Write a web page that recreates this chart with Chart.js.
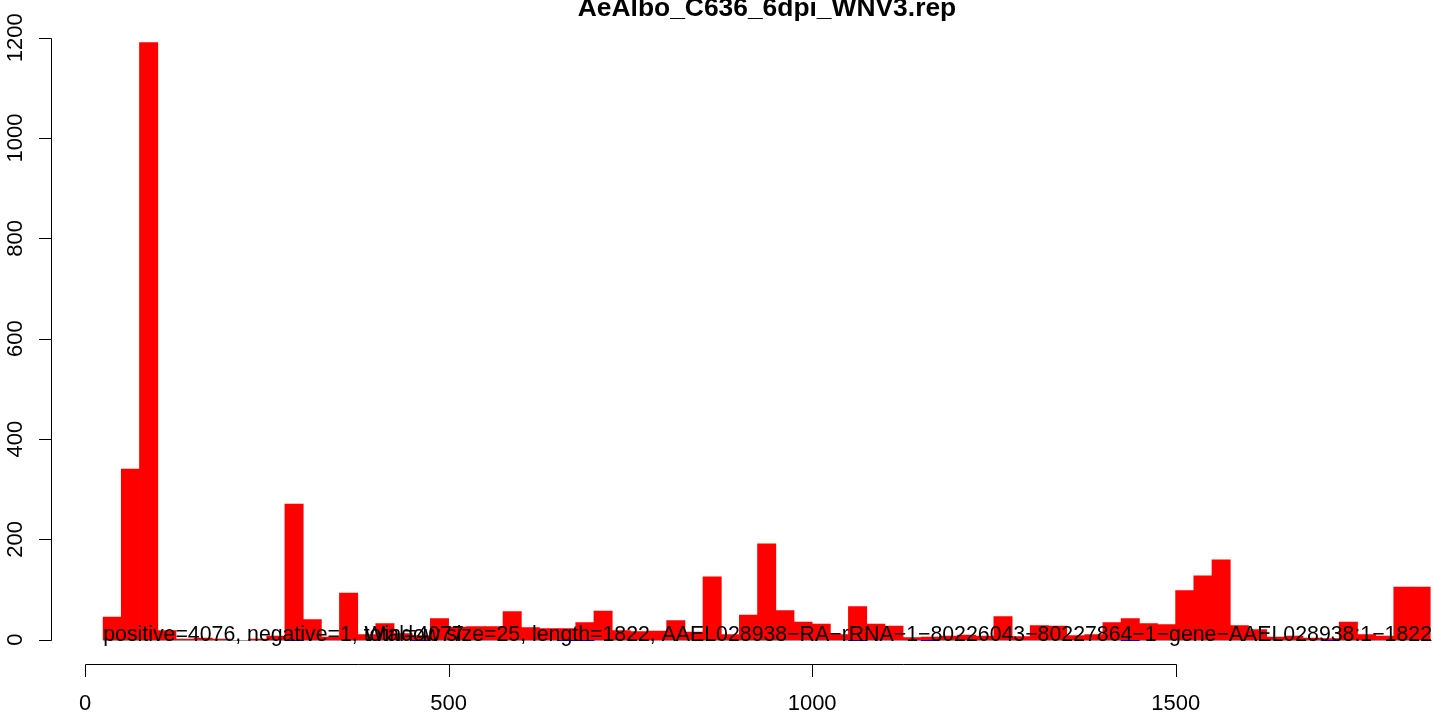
<!DOCTYPE html>
<html>
<head>
<meta charset="utf-8">
<title>AeAlbo_C636_6dpi_WNV3.rep</title>
<script src="https://cdn.jsdelivr.net/npm/chart.js@4.4.0/dist/chart.umd.min.js"></script>
<style>
  html, body { margin: 0; padding: 0; background: #fff; }
  #wrap { width: 1447px; height: 715px; }
</style>
</head>
<body>
<div id="wrap"><canvas id="covChart" width="1447" height="715"></canvas></div>
<script>
var chartTitle = 'AeAlbo_C636_6dpi_WNV3.rep';
var countText = 'positive=4076, negative=1, total=4077';
var infoText = 'Window size=25, length=1822, AAEL028938\u2212RA\u2212rRNA\u22121\u221280226043\u221280227864\u22121\u2212gene\u2212AAEL028938:1\u22121822';

var windowSize = 25;
// reads per 25 nt window, window 0 = 0..25
var positiveCounts = [
  0, 45, 340, 1190, 18, 1, 3, 1, 0, 1,
  7, 270, 40, 5, 93, 10, 32, 12, 8, 42,
  25, 26, 26, 56, 24, 22, 22, 34, 57, 18,
  16, 17, 38, 15, 125, 10, 49, 191, 58, 35,
  31, 10, 66, 31, 27, 4, 5, 7, 9, 7,
  46, 6, 28, 27, 8, 10, 34, 42, 32, 30,
  98, 127, 159, 28, 20, 5, 7, 3, 2, 35,
  10, 7, 105, 105
];
// windows holding the (tiny) negative strand counts
var negativeWindows = [11, 18, 26, 27, 42, 46, 57, 68];
var negativeCounts = [-2, -2, -2, -2, -2, -2, -2, -2];

var xTicks = [0, 500, 1000, 1500];
var yTicks = [0, 200, 400, 600, 800, 1000, 1200];

var FONT = '"Liberation Sans", Arial, Helvetica, sans-serif';

var posPoints = [];
positiveCounts.forEach(function (v, i) {
  if (v > 0) posPoints.push({ x: i * windowSize + windowSize / 2, y: v });
});
var negPoints = negativeWindows.map(function (w, i) {
  return { x: w * windowSize + windowSize / 2, y: negativeCounts[i] };
});

// R style axes + texts
var rStyle = {
  id: 'rStyle',
  beforeDatasetsDraw: function (chart) {
    var ctx = chart.ctx, xs = chart.scales.x, ys = chart.scales.y, a = chart.chartArea;
    var y0 = Math.round(ys.getPixelForValue(0)) + 0.5;
    ctx.save();
    ctx.strokeStyle = '#9a9a9a';
    ctx.lineWidth = 1;
    ctx.beginPath();
    ctx.moveTo(xs.getPixelForValue(windowSize), y0);
    ctx.lineTo(a.right, y0);
    ctx.stroke();
    ctx.restore();
  },
  afterDraw: function (chart) {
    var ctx = chart.ctx, xs = chart.scales.x, ys = chart.scales.y, a = chart.chartArea;
    ctx.save();
    ctx.strokeStyle = '#000';
    ctx.fillStyle = '#000';
    ctx.lineWidth = 1;

    // y axis
    var ax = Math.round(a.left) + 0.5;
    ctx.beginPath();
    ctx.moveTo(ax, Math.round(ys.getPixelForValue(yTicks[0])) + 0.5);
    ctx.lineTo(ax, Math.round(ys.getPixelForValue(yTicks[yTicks.length - 1])) + 0.5);
    yTicks.forEach(function (t) {
      var py = Math.round(ys.getPixelForValue(t)) + 0.5;
      ctx.moveTo(ax, py);
      ctx.lineTo(ax - 12.5, py);
    });
    ctx.stroke();
    ctx.font = '22px ' + FONT;
    ctx.textAlign = 'center';
    ctx.textBaseline = 'alphabetic';
    yTicks.forEach(function (t) {
      var py = ys.getPixelForValue(t);
      ctx.save();
      ctx.translate(22, py);
      ctx.rotate(-Math.PI / 2);
      ctx.fillText(String(t), 0, 0);
      ctx.restore();
    });

    // x axis
    var ay = Math.round(a.bottom) + 0.5;
    ctx.beginPath();
    ctx.moveTo(Math.round(xs.getPixelForValue(xTicks[0])) + 0.5, ay);
    ctx.lineTo(Math.round(xs.getPixelForValue(xTicks[xTicks.length - 1])) + 0.5, ay);
    xTicks.forEach(function (t) {
      var px = Math.round(xs.getPixelForValue(t)) + 0.5;
      ctx.moveTo(px, ay);
      ctx.lineTo(px, ay + 12.5);
    });
    ctx.stroke();
    xTicks.forEach(function (t) {
      ctx.fillText(String(t), xs.getPixelForValue(t), 710);
    });

    // annotation at the baseline
    var yb = ys.getPixelForValue(0) + 1;
    ctx.font = '21.3px ' + FONT;
    ctx.textAlign = 'left';
    ctx.fillText(countText, xs.getPixelForValue(windowSize), yb);
    ctx.textAlign = 'right';
    ctx.fillText(infoText, a.right, yb);

    // title (clipped at the top like the original)
    ctx.font = 'bold 26.4px ' + FONT;
    ctx.textAlign = 'center';
    ctx.fillText(chartTitle, 767, 16);
    ctx.restore();
  }
};

var ctx = document.getElementById('covChart').getContext('2d');
var covChart = new Chart(ctx, {
  type: 'bar',
  data: {
    datasets: [
      {
        label: 'positive',
        data: posPoints,
        backgroundColor: '#ff0000',
        borderWidth: 0,
        barPercentage: 1,
        categoryPercentage: 1,
        grouped: false,
        inflateAmount: 0.4
      },
      {
        label: 'negative',
        data: negPoints,
        backgroundColor: '#0000ff',
        borderWidth: 0,
        barPercentage: 1,
        categoryPercentage: 1,
        grouped: false
      }
    ]
  },
  options: {
    responsive: false,
    animation: false,
    devicePixelRatio: 1,
    layout: { padding: { left: 50.7, right: 15, top: 18.8, bottom: 51 } },
    plugins: {
      legend: { display: false },
      title: { display: false },
      tooltip: { enabled: false }
    },
    scales: {
      x: { type: 'linear', min: -47.2, max: 1852.5, display: false, offset: false },
      y: { min: -48.4, max: 1237.6, display: false }
    }
  },
  plugins: [rStyle]
});
</script>
</body>
</html>
